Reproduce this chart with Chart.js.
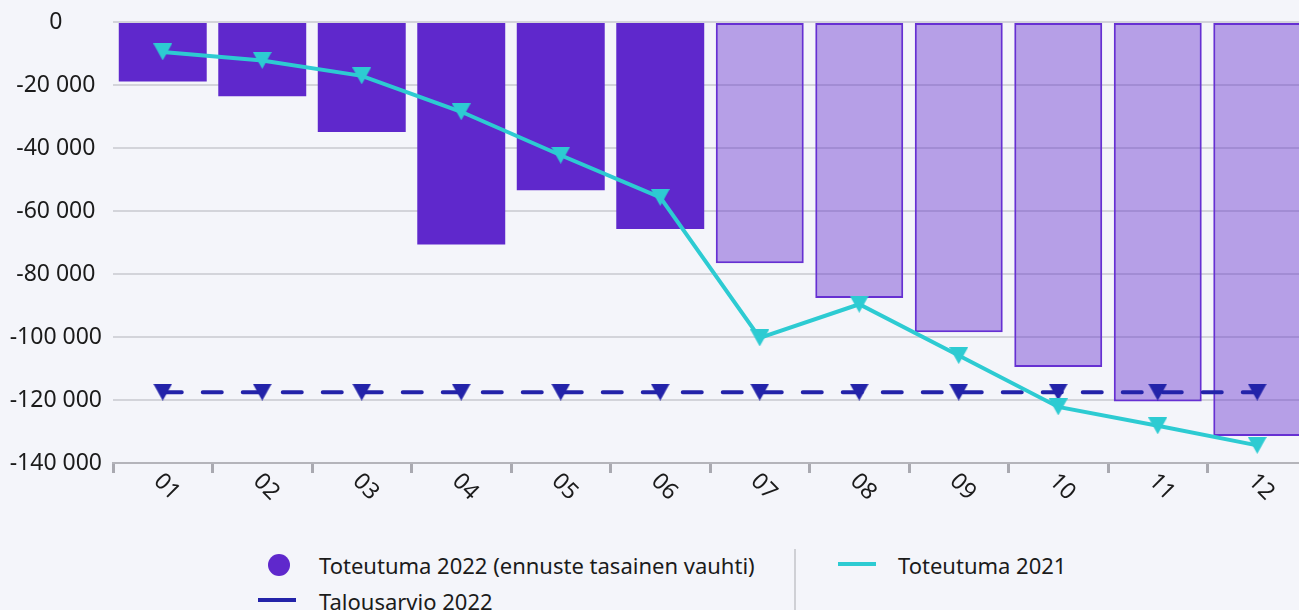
<!DOCTYPE html>
<html lang="fi">
<head>
  <meta charset="UTF-8">
  <title>Toteutuma</title>
  <script src="https://cdn.jsdelivr.net/npm/chart.js"></script>
  <style>
    html, body { margin: 0; padding: 0; background: #f4f5fa; overflow: hidden; }
    body { width: 1299px; height: 610px; position: relative; font-family: "Noto Sans", sans-serif; color: #1b1b1b; }
    #chart { position: absolute; left: 0; top: 0; }
    .lg { position: absolute; }
    .txt { font-size: 22px; line-height: 30px; white-space: nowrap; }
  </style>
</head>
<body>
  <canvas id="chart" width="1315" height="530"></canvas>

  <div class="lg" style="left:268px; top:554px; width:22px; height:22px; border-radius:50%; background:#5f28cc;"></div>
  <div class="lg txt" style="left:319px; top:550px;">Toteutuma 2022 (ennuste tasainen vauhti)</div>
  <div class="lg" style="left:794px; top:549px; width:2px; height:61px; background:#cfd0d5;"></div>
  <div class="lg" style="left:838px; top:562px; width:38px; height:4px; background:#2dcbd2;"></div>
  <div class="lg txt" style="left:898px; top:550px;">Toteutuma 2021</div>
  <div class="lg" style="left:258px; top:598px; width:38px; height:4px; background:#2323a9;"></div>
  <div class="lg txt" style="left:319px; top:586px;">Talousarvio 2022</div>

  <script>
    const kuukaudet = ['01', '02', '03', '04', '05', '06', '07', '08', '09', '10', '11', '12'];
    const toteutuma2022 = [-18900, -23600, -34900, -70600, -53400, -65700, -76600, -87600, -98500, -109500, -120500, -131400];
    const ennuste = [false, false, false, false, false, false, true, true, true, true, true, true];
    const toteutuma2021 = [-9500, -12200, -17100, -28500, -42300, -55700, -100300, -89600, -105900, -122200, -128200, -134400];
    const talousarvio2022 = [-117500, -117500, -117500, -117500, -117500, -117500, -117500, -117500, -117500, -117500, -117500, -117500];
    const yTicks = [0, -20000, -40000, -60000, -80000, -100000, -120000, -140000];

    const PURPLE = '#5f28cc';
    const CYAN = '#2dcbd2';
    const BLUE = '#2323a9';
    const FONT = '"Noto Sans", sans-serif';

    // kolmio alaspäin, keskitetty laatikkoon
    function kolmio(vari) {
      const c = document.createElement('canvas');
      c.width = 19; c.height = 17;
      const g = c.getContext('2d');
      g.fillStyle = vari;
      g.beginPath();
      g.moveTo(0, 0); g.lineTo(19, 0); g.lineTo(9.5, 17);
      g.closePath();
      g.fill();
      return c;
    }

    function muotoile(v) {
      const s = String(Math.abs(v)).replace(/\B(?=(\d{3})+(?!\d))/g, ' ');
      return (v < 0 ? '-' : '') + s;
    }

    const xLabels = {
      id: 'xLabels',
      afterDraw(chart) {
        const ctx = chart.ctx;
        const x = chart.scales.x;
        ctx.save();
        ctx.font = '23px ' + FONT;
        ctx.fillStyle = '#1b1b1b';
        ctx.textAlign = 'center';
        ctx.textBaseline = 'middle';
        kuukaudet.forEach((k, i) => {
          ctx.save();
          ctx.translate(x.getPixelForValue(i) + 4, x.top + 24);
          ctx.rotate(Math.PI / 4);
          ctx.fillText(k, 0, 0);
          ctx.restore();
        });
        ctx.restore();
      }
    };

    new Chart(document.getElementById('chart'), {
      type: 'bar',
      data: {
        labels: kuukaudet,
        datasets: [
          {
            type: 'line',
            label: 'Toteutuma 2021',
            data: toteutuma2021,
            borderColor: CYAN,
            borderWidth: 4,
            pointStyle: kolmio(CYAN),
            tension: 0,
            order: 0
          },
          {
            type: 'line',
            label: 'Talousarvio 2022',
            data: talousarvio2022,
            borderColor: BLUE,
            borderWidth: 4,
            borderDash: [19, 21],
            borderCapStyle: 'round',
            pointStyle: kolmio(BLUE),
            tension: 0,
            order: 1
          },
          {
            label: 'Toteutuma 2022 (ennuste tasainen vauhti)',
            data: toteutuma2022,
            backgroundColor: ennuste.map(e => e ? 'rgba(95,40,204,0.42)' : PURPLE),
            borderColor: ennuste.map(e => e ? '#6630d2' : PURPLE),
            borderWidth: ennuste.map(e => e ? 2 : 0),
            borderSkipped: false,
            barPercentage: 0.884,
            categoryPercentage: 1,
            order: 2
          }
        ]
      },
      options: {
        responsive: false,
        animation: false,
        layout: { padding: { top: 22, right: 2, left: 0, bottom: 0 } },
        plugins: {
          legend: { display: false },
          tooltip: { enabled: false }
        },
        scales: {
          x: {
            grid: { drawOnChartArea: false, drawTicks: true, tickLength: 10, color: '#a9a9b0', lineWidth: 3, offset: true },
            border: { display: true, color: '#b4b4ba', width: 2 },
            ticks: { display: false },
            afterFit(s) { s.height = 67; }
          },
          y: {
            min: -140000,
            max: 0,
            afterBuildTicks(s) { s.ticks = yTicks.map(v => ({ value: v })); },
            grid: { color: '#d3d4da', lineWidth: 2, drawTicks: false },
            border: { display: false },
            ticks: {
              padding: 11,
              crossAlign: 'center',
              color: '#1b1b1b',
              font: { family: FONT, size: 23 },
              callback: v => muotoile(v)
            },
            afterFit(s) { s.width = 113; s.paddingTop = 0; s.paddingBottom = 0; }
          }
        }
      },
      plugins: [xLabels]
    });
  </script>
</body>
</html>
